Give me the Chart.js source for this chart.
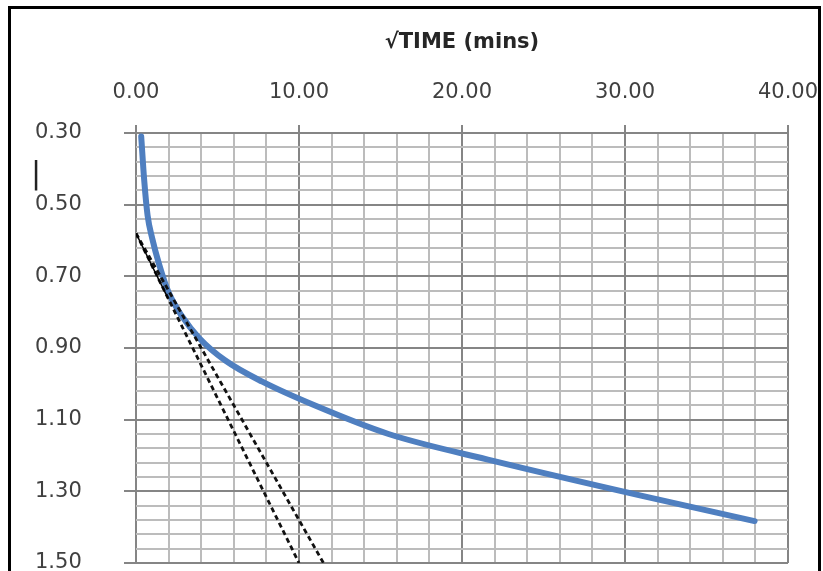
<!DOCTYPE html>
<html><head><meta charset="utf-8">
<script src="https://cdn.jsdelivr.net/npm/chart.js@4.4.1/dist/chart.umd.min.js"></script>
<style>
html,body{margin:0;padding:0;background:#fff;overflow:hidden;width:823px;height:571px;}
#frame{position:absolute;left:8px;top:6px;width:813px;height:620px;border:3px solid #000;box-sizing:border-box;}
#wrap{position:absolute;left:0;top:0;width:823px;height:600px;}
#ymark{position:absolute;left:31px;top:158px;font-family:"DejaVu Sans";font-size:30px;line-height:30px;color:#222;}
</style>
</head><body>
<div id="frame"></div>
<div id="wrap"><canvas id="c" width="823" height="600"></canvas></div>
<div id="ymark">|</div>
<script>
// Square root of time (mins) and dial readings
const sqrtTime = [0.32, 0.5, 0.71, 1.0, 1.41, 2.0, 2.83, 3.87, 5.48, 7.75, 10.95, 15.49, 21.91, 30.98, 37.95];
const reading  = [0.31, 0.43, 0.53, 0.595, 0.665, 0.745, 0.812, 0.872, 0.935, 0.994, 1.06, 1.14, 1.215, 1.312, 1.383];
// Construction lines (Taylor root-time method)
const tangentX = [0, 1.95];
const tangentY = [0.58, 0.76];
const lineAX = [0, 10.0];
const lineAY = [0.58, 1.50];
const lineBX = [0, 11.5];
const lineBY = [0.58, 1.50];
const xTitle = "\u221ATIME (mins)";
const xMin = 0, xMax = 40, xMinorStep = 2, xMajorStep = 10;
const yMin = 0.30, yMax = 1.50, yMinorStep = 0.04, yMajorStep = 0.20;

const pts = (xs, ys) => xs.map((x, i) => ({x: x, y: ys[i]}));
const isMajor = (v, base, step) => Math.abs((v - base) / step - Math.round((v - base) / step)) < 1e-6;
const MAJ = '#858585', MIN = '#bcbcbc';

new Chart(document.getElementById('c'), {
  type: 'scatter',
  data: {
    datasets: [
      {data: pts(sqrtTime, reading), showLine: true, borderColor: '#4f7fc0', borderWidth: 6,
       pointRadius: 0, cubicInterpolationMode: 'monotone', borderCapStyle: 'round', borderJoinStyle: 'round', order: 2},
      {data: pts(tangentX, tangentY), showLine: true, borderColor: '#000', borderWidth: 1.5, pointRadius: 0, order: 1},
      {data: pts(lineAX, lineAY), showLine: true, borderColor: '#111', borderWidth: 2.8, borderDash: [5, 3.5], pointRadius: 0, order: 1},
      {data: pts(lineBX, lineBY), showLine: true, borderColor: '#111', borderWidth: 2.8, borderDash: [5, 3.5], pointRadius: 0, order: 1}
    ]
  },
  options: {
    responsive: false, animation: false,
    layout: {padding: {left: 35, top: 30, right: 35, bottom: 37}},
    plugins: {legend: {display: false}, tooltip: {enabled: false}},
    scales: {
      x: {
        type: 'linear', position: 'top', min: xMin, max: xMax,
        afterFit: s => { s.height = 103; s.paddingLeft = 0; s.paddingRight = 0; },
        border: {display: false},
        grid: {
          color: c => isMajor(c.tick.value, xMin, xMajorStep) ? MAJ : MIN,
          lineWidth: 2,
          tickColor: c => isMajor(c.tick.value, xMin, xMajorStep) ? MAJ : 'rgba(0,0,0,0)',
          tickLength: 8, tickWidth: 2
        },
        ticks: {
          stepSize: xMinorStep, autoSkip: false, maxRotation: 0, padding: 20,
          color: '#404040', font: {family: 'DejaVu Sans', size: 21},
          callback: v => isMajor(v, xMin, xMajorStep) ? Number(v).toFixed(2) : ''
        },
        title: {display: true, text: xTitle, color: '#262626',
          font: {family: 'DejaVu Sans', size: 21, weight: 'bold'}, padding: {top: 0, bottom: 25}}
      },
      y: {
        type: 'linear', reverse: true, min: yMin, max: yMax,
        afterFit: s => { s.width = 101; s.paddingTop = 0; s.paddingBottom = 0; },
        border: {display: false},
        grid: {
          color: c => isMajor(c.tick.value, yMin, yMajorStep) ? MAJ : MIN,
          lineWidth: 2,
          tickColor: c => isMajor(c.tick.value, yMin, yMajorStep) ? MAJ : 'rgba(0,0,0,0)',
          tickLength: 12, tickWidth: 2
        },
        ticks: {
          stepSize: yMinorStep, autoSkip: false, padding: 4, crossAlign: 'far',
          color: '#404040', font: {family: 'DejaVu Sans', size: 21},
          callback: v => isMajor(v, yMin, yMajorStep) ? Number(v).toFixed(2) : ''
        }
      }
    }
  }
});
</script>
</body></html>
